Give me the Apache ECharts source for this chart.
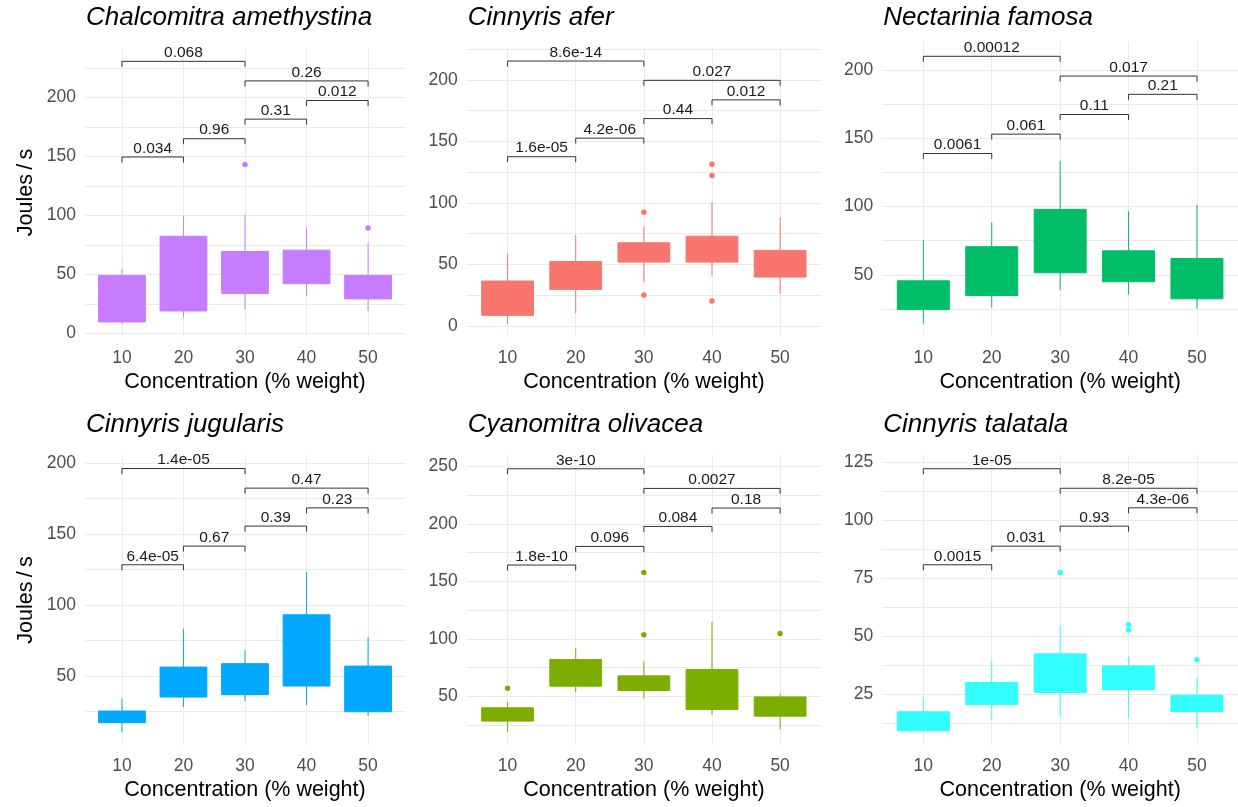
<!DOCTYPE html>
<html><head><meta charset="utf-8">
<script src="https://cdn.jsdelivr.net/npm/echarts@6/dist/echarts.min.js"></script>
<style>html,body{margin:0;padding:0;background:#fff}#chart{width:1238px;height:807px}</style>
</head><body><div id="chart"></div>
<script>
const concentrations = [10, 20, 30, 40, 50];
const speciesNames = ['Chalcomitra amethystina', 'Cinnyris afer', 'Nectarinia famosa', 'Cinnyris jugularis', 'Cyanomitra olivacea', 'Cinnyris talatala'];
const comparisonPairs = [[10, 20], [20, 30], [30, 40], [40, 50], [30, 50], [10, 30]];

// box stats per concentration: [lower whisker, Q1, median, Q3, upper whisker]
const amethystinaBoxes = [[7.9, 9.8, 28, 49.2, 54.9], [13.5, 19.1, 50, 82.4, 99.9], [20.5, 33.8, 50, 69.5, 100.7], [31.8, 42.2, 55, 70.6, 90], [19.1, 29.3, 38, 49.2, 76.8]];
const amethystinaOutliers = [[30, 143.2], [50, 89.5]];
const amethystinaPValues = ['0.034', '0.96', '0.31', '0.012', '0.26', '0.068'];
const amethystinaBracketY = [149.6, 165.1, 181.7, 197.5, 214.1, 230.7];

const aferBoxes = [[1.4, 8.6, 22, 36.5, 58.9], [10.3, 29.7, 41, 52.4, 74], [35.7, 51.9, 60, 67.6, 80.3], [41.1, 51.9, 62, 73, 100.8], [25.9, 39.7, 50, 61.4, 88.4]];
const aferOutliers = [[30, 92.4], [30, 25.1], [40, 131.4], [40, 122.4], [40, 20.3]];
const aferPValues = ['1.6e-05', '4.2e-06', '0.44', '0.012', '0.027', '8.6e-14'];
const aferBracketY = [137.6, 152.7, 168.6, 183.8, 199.7, 215.4];

const famosaBoxes = [[14.2, 24.5, 35, 45.6, 75.5], [26, 34.8, 52, 70.6, 88.5], [38.7, 51.5, 75, 98, 133.6], [35.5, 44.9, 56, 67.6, 96.6], [25.2, 32.4, 47, 62, 101.2]];
const famosaOutliers = [];
const famosaPValues = ['0.0061', '0.061', '0.11', '0.21', '0.017', '0.00012'];
const famosaBracketY = [139, 153.2, 167.6, 182.4, 195.8, 210.3];

const jugularisBoxes = [[10.6, 17.2, 21, 25.4, 34.1], [28.2, 35.2, 45, 56.3, 83.3], [32.4, 36.9, 47, 58.7, 68.3], [29.6, 43, 68, 93.1, 123.4], [21.9, 24.9, 40, 57, 77.4]];
const jugularisOutliers = [];
const jugularisPValues = ['6.4e-05', '0.67', '0.39', '0.23', '0.47', '1.4e-05'];
const jugularisBracketY = [128.3, 141.4, 155.5, 168.3, 182.2, 196];

const olivaceaBoxes = [[18.7, 28.3, 34, 39.9, 44.8], [53.5, 58.7, 70, 81.9, 91.7], [48, 54.9, 61, 67.7, 80.1], [33.8, 38.4, 55, 73.2, 114.6], [21, 32.6, 40, 49.4, 52.3]];
const olivaceaOutliers = [[10, 57], [30, 157.8], [30, 103.6], [50, 104.5]];
const olivaceaPValues = ['1.8e-10', '0.096', '0.084', '0.18', '0.0027', '3e-10'];
const olivaceaBracketY = [164.2, 180.4, 197.8, 213.8, 230.9, 248];

const talatalaBoxes = [[8.7, 9.4, 13, 17.6, 23.7], [14.4, 20.7, 25, 30.2, 39.3], [15.4, 25.9, 33, 42.5, 54.8], [15.1, 27.1, 32, 37.3, 41.2], [10.4, 17.7, 21, 24.7, 32.3]];
const talatalaOutliers = [[30, 77.5], [40, 55], [40, 52.8], [50, 40]];
const talatalaPValues = ['0.0015', '0.031', '0.93', '4.3e-06', '8.2e-05', '1e-05'];
const talatalaBracketY = [80.8, 88.8, 97.4, 105.3, 113.7, 122.1];

const yTickLabels = [[0, 50, 100, 150, 200], [0, 50, 100, 150, 200], [50, 100, 150, 200], [50, 100, 150, 200], [50, 100, 150, 200, 250], [25, 50, 75, 100, 125]];
const yGridValues = [
  [0, 25, 50, 75, 100, 125, 150, 175, 200, 225],
  [0, 25, 50, 75, 100, 125, 150, 175, 200, 225],
  [25, 50, 75, 100, 125, 150, 175, 200],
  [25, 50, 75, 100, 125, 150, 175, 200],
  [25, 50, 75, 100, 125, 150, 175, 200, 225, 250],
  [12.5, 25, 37.5, 50, 62.5, 75, 87.5, 100, 112.5, 125]
];
const yRanges = [[-3, 242], [-9, 226], [4.4, 221], [1.5, 205.5], [7.5, 260], [3.3, 128]];

const panelBoxes = [amethystinaBoxes, aferBoxes, famosaBoxes, jugularisBoxes, olivaceaBoxes, talatalaBoxes];
const panelOutliers = [amethystinaOutliers, aferOutliers, famosaOutliers, jugularisOutliers, olivaceaOutliers, talatalaOutliers];
const panelPValues = [amethystinaPValues, aferPValues, famosaPValues, jugularisPValues, olivaceaPValues, talatalaPValues];
const panelBracketY = [amethystinaBracketY, aferBracketY, famosaBracketY, jugularisBracketY, olivaceaBracketY, talatalaBracketY];

// ---- layout / style ----
const colors = ['#C77CFF', '#F8766D', '#00BE67', '#00A9FF', '#7CAE00', '#33FEFF'];
const grids = [
  { left: 85, top: 48, width: 320, height: 289 },
  { left: 466.7, top: 48, width: 354.3, height: 289 },
  { left: 882.3, top: 41.7, width: 355.7, height: 295.3 },
  { left: 85, top: 455, width: 320, height: 290 },
  { left: 466.7, top: 455, width: 354.3, height: 290 },
  { left: 882.3, top: 455, width: 355.7, height: 290 }
];
const titleTops = [5, 5, 5, 412, 412, 412];
const FONT = '"Liberation Sans", Arial, sans-serif';
const BOX_HALF = 3.8;
const TIP = 5.5;
const GRID_COLOR = '#EBEBEB';

function boxRenderer(color) {
  return function (params, api) {
    const x = api.value(0);
    const lo = api.value(1), q1 = api.value(2), med = api.value(3), q3 = api.value(4), hi = api.value(5);
    const tl = api.coord([x - BOX_HALF, q3]);
    const br = api.coord([x + BOX_HALF, q1]);
    const top = api.coord([x, hi]);
    const bot = api.coord([x, lo]);
    const pm = api.coord([x, med]);
    return {
      type: 'group',
      children: [
        { type: 'line', shape: { x1: top[0], y1: top[1], x2: top[0], y2: tl[1] }, style: { stroke: color, lineWidth: 1 } },
        { type: 'line', shape: { x1: bot[0], y1: br[1], x2: bot[0], y2: bot[1] }, style: { stroke: color, lineWidth: 1 } },
        { type: 'rect', shape: { x: tl[0], y: tl[1], width: br[0] - tl[0], height: br[1] - tl[1] }, style: { fill: color, stroke: color, lineWidth: 1 } },
        { type: 'line', shape: { x1: tl[0], y1: pm[1], x2: br[0], y2: pm[1] }, style: { stroke: color, lineWidth: 2 } }
      ]
    };
  };
}

function bracketRenderer(labels) {
  return function (params, api) {
    const a = api.coord([api.value(0), api.value(2)]);
    const b = api.coord([api.value(1), api.value(2)]);
    return {
      type: 'group',
      children: [
        { type: 'polyline', shape: { points: [[a[0], a[1] + TIP], [a[0], a[1]], [b[0], b[1]], [b[0], b[1] + TIP]] }, style: { stroke: '#333333', lineWidth: 1, fill: null } },
        { type: 'text', style: { x: (a[0] + b[0]) / 2, y: a[1] - 0.5, text: labels[params.dataIndex], align: 'center', verticalAlign: 'bottom', fontSize: 15.5, fontFamily: FONT, fill: '#1a1a1a' } }
      ]
    };
  };
}

const option = {
  animation: false,
  backgroundColor: '#ffffff',
  title: [], grid: [], xAxis: [], yAxis: [], series: []
};

for (let i = 0; i < 6; i++) {
  const g = grids[i];
  option.title.push({
    text: speciesNames[i], left: g.left + 1, top: titleTops[i], padding: 0,
    textStyle: { fontFamily: FONT, fontSize: 26, fontStyle: 'italic', fontWeight: 'normal', color: '#000' }
  });
  option.grid.push({ left: g.left, top: g.top, width: g.width, height: g.height, containLabel: false });
  option.xAxis.push({
    type: 'value', gridIndex: i, min: 4, max: 56,
    name: 'Concentration (% weight)', nameLocation: 'middle', nameGap: 34,
    nameTextStyle: { fontFamily: FONT, fontSize: 21.5, color: '#000' },
    axisLine: { show: false }, axisTick: { show: false, customValues: concentrations },
    axisLabel: { customValues: concentrations, margin: 12, fontFamily: FONT, fontSize: 17.5, color: '#4D4D4D' },
    splitLine: { show: true, lineStyle: { color: GRID_COLOR, width: 1 } }
  });
  option.yAxis.push({
    type: 'value', gridIndex: i, min: yRanges[i][0], max: yRanges[i][1],
    name: (i % 3 === 0) ? 'Joules\u2009/\u2009s' : '', nameLocation: 'middle', nameGap: 48, nameRotate: 90,
    nameTextStyle: { fontFamily: FONT, fontSize: 21.5, color: '#000' },
    axisLine: { show: false }, axisTick: { show: false, customValues: yGridValues[i] },
    axisLabel: { customValues: yTickLabels[i], margin: 9, fontFamily: FONT, fontSize: 17.5, color: '#4D4D4D' },
    splitLine: { show: true, lineStyle: { color: GRID_COLOR, width: 1 } }
  });
  option.series.push({
    type: 'custom', xAxisIndex: i, yAxisIndex: i,
    renderItem: boxRenderer(colors[i]),
    encode: { x: 0, y: [1, 2, 3, 4, 5] },
    data: panelBoxes[i].map((b, j) => [concentrations[j]].concat(b))
  });
  option.series.push({
    type: 'scatter', xAxisIndex: i, yAxisIndex: i,
    symbolSize: 5.5, itemStyle: { color: colors[i], opacity: 1 },
    data: panelOutliers[i]
  });
  option.series.push({
    type: 'custom', xAxisIndex: i, yAxisIndex: i,
    renderItem: bracketRenderer(panelPValues[i]),
    encode: { x: [0, 1], y: 2 },
    data: comparisonPairs.map((p, k) => [p[0], p[1], panelBracketY[i][k]])
  });
}

const chart = echarts.init(document.getElementById('chart'), null, { renderer: 'canvas' });
chart.setOption(option);
</script>
</body></html>
